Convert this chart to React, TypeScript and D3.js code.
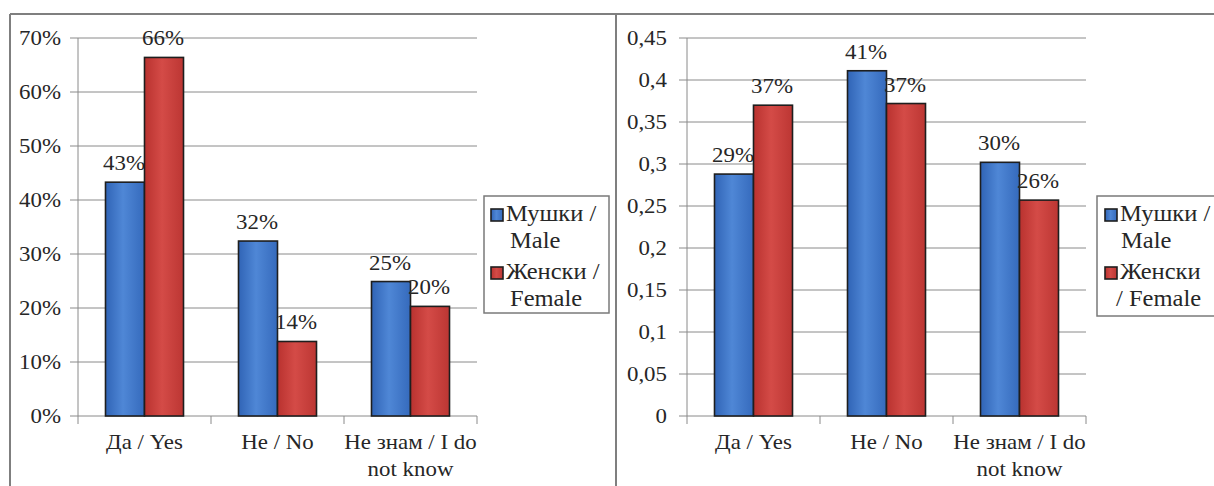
import React from "react";
import * as d3 from "d3";

const categories = ["Да / Yes", "Не / No", "Не знам / I do not know"];
const seriesNames = ["Мушки / Male", "Женски / Female"];
const maleLeft = [0.433, 0.324, 0.249];
const femaleLeft = [0.664, 0.138, 0.203];
const maleRight = [0.288, 0.411, 0.302];
const femaleRight = [0.37, 0.372, 0.257];
const leftTicks = [0, 0.1, 0.2, 0.3, 0.4, 0.5, 0.6, 0.7];
const rightTicks = [0, 0.05, 0.1, 0.15, 0.2, 0.25, 0.3, 0.35, 0.4, 0.45];
const legendLinesLeft = [["Мушки /", "Male"], ["Женски /", "Female"]];
const legendLinesRight = [["Мушки /", "Male"], ["Женски", "/ Female"]];

const FONT = '"Liberation Serif", Tinos, "DejaVu Serif", serif';
const TXT = "#262626";
const GRID = "#8a8a8a";
const SX = 1.09;

const commaLocale = d3.formatLocale({ decimal: ",", thousands: ".", grouping: [3], currency: ["", ""] });
const fmtComma = commaLocale.format("~g");
const fmtPct = d3.format(".0%");

let measureCtx: CanvasRenderingContext2D | null = null;
function measure(text: string, font: string) {
  if (!measureCtx) measureCtx = document.createElement("canvas").getContext("2d");
  if (!measureCtx) return text.length * 10;
  measureCtx.font = font;
  return measureCtx.measureText(text).width * SX;
}
function wrap(text: string, maxW: number, font: string) {
  const words = text.split(" ");
  const lines: string[] = [];
  let cur = "";
  for (const w of words) {
    const t = cur ? cur + " " + w : w;
    if (cur && measure(t, font) > maxW) {
      lines.push(cur);
      cur = w;
    } else cur = t;
  }
  if (cur) lines.push(cur);
  return lines;
}

function T(props: { x: number; y: number; size: number; anchor?: string; dy?: string; children: React.ReactNode }) {
  return (
    <text
      transform={`translate(${props.x},${props.y}) scale(${SX},1)`}
      dy={props.dy}
      textAnchor={props.anchor || "start"}
      style={{ fontFamily: FONT }}
      fontSize={props.size}
      fill={TXT}
    >
      {props.children}
    </text>
  );
}

type PanelProps = {
  id: string;
  x0: number;
  x1: number;
  yTop: number;
  y0: number;
  max: number;
  ticks: number[];
  tickFmt: (v: number) => string;
  tickGap: number;
  male: number[];
  female: number[];
  legend: { x: number; y: number; w: number; h: number; markerX: number; textX: number; line2X: number[]; lines: string[][] };
};

function Panel(p: PanelProps) {
  const x = d3.scaleBand<string>().domain(categories).range([p.x0, p.x1]).paddingInner(0.4135).paddingOuter(0.4135 / 2);
  const xs = d3.scaleBand<string>().domain(seriesNames).range([0, x.bandwidth()]);
  const y = d3.scaleLinear().domain([0, p.max]).range([p.y0, p.yTop]);
  const values = [p.male, p.female];
  const grads = [`${p.id}-blue`, `${p.id}-red`];
  const step = (p.x1 - p.x0) / categories.length;
  const catFont = `21px ${FONT}`;
  return (
    <g>
      <defs>
        <linearGradient id={grads[0]} x1="0" x2="1" y1="0" y2="0">
          <stop offset="0" stopColor="#3064b6" />
          <stop offset="0.45" stopColor="#4f87d6" />
          <stop offset="1" stopColor="#356abc" />
        </linearGradient>
        <linearGradient id={grads[1]} x1="0" x2="1" y1="0" y2="0">
          <stop offset="0" stopColor="#b9322f" />
          <stop offset="0.45" stopColor="#d44b47" />
          <stop offset="1" stopColor="#bc3633" />
        </linearGradient>
      </defs>
      {p.ticks.map((t) => (
        <g key={t}>
          <line x1={p.x0 - 8} x2={p.x1} y1={y(t)} y2={y(t)} stroke={GRID} strokeWidth={1} />
          <T x={p.x0 - p.tickGap} y={y(t)} dy="0.35em" anchor="end" size={21}>
            {p.tickFmt(t)}
          </T>
        </g>
      ))}
      <line x1={p.x0} x2={p.x0} y1={p.yTop} y2={p.y0} stroke={GRID} strokeWidth={1} />
      {d3.range(categories.length + 1).map((i) => (
        <line key={i} x1={p.x0 + i * step} x2={p.x0 + i * step} y1={p.y0} y2={p.y0 + 8} stroke={GRID} strokeWidth={1} />
      ))}
      {categories.map((c, ci) =>
        seriesNames.map((s, si) => {
          const v = values[si][ci];
          const bx = (x(c) as number) + (xs(s) as number);
          const bw = xs.bandwidth();
          return (
            <g key={c + s}>
              <rect x={bx} y={y(v)} width={bw} height={p.y0 - y(v)} fill={`url(#${grads[si]})`} stroke="#1e1e1e" strokeWidth={1.6} />
              <T x={bx + bw / 2 - 1} y={y(v) - 12} anchor="middle" size={21}>
                {fmtPct(v)}
              </T>
            </g>
          );
        })
      )}
      {categories.map((c) => {
        const lines = wrap(c, 145, catFont);
        const cx = (x(c) as number) + x.bandwidth() / 2;
        return lines.map((l, li) => (
          <T key={c + li} x={cx} y={449 + li * 27} anchor="middle" size={21}>
            {l}
          </T>
        ));
      })}
      <rect x={p.legend.x} y={p.legend.y} width={p.legend.w} height={p.legend.h} fill="white" stroke="#7a7a7a" strokeWidth={1.5} />
      {p.legend.lines.map((ls, si) => (
        <g key={si}>
          <rect x={p.legend.markerX} y={209 + si * 58} width={12} height={12} fill={`url(#${grads[si]})`} stroke="#1e1e1e" strokeWidth={1.6} />
          <T x={p.legend.textX} y={221 + si * 58} size={22.5}>
            {ls[0]}
          </T>
          <T x={p.legend.line2X[si]} y={248 + si * 58} size={22.5}>
            {ls[1]}
          </T>
        </g>
      ))}
    </g>
  );
}

export default function App() {
  return (
    <svg width={1214} height={486} style={{ position: "absolute", left: 0, top: 0, background: "white" }}>
      <rect x={0} y={0} width={1214} height={486} fill="white" />
      <line x1={10} x2={1214} y1={14} y2={14} stroke="#7f7f7f" strokeWidth={2} />
      <line x1={10} x2={10} y1={14} y2={486} stroke="#7f7f7f" strokeWidth={2} />
      <line x1={616} x2={616} y1={14} y2={486} stroke="#7f7f7f" strokeWidth={2} />
      <Panel
        id="l"
        x0={78}
        x1={477}
        yTop={38}
        y0={416}
        max={0.7}
        ticks={leftTicks}
        tickFmt={fmtPct}
        tickGap={17}
        male={maleLeft}
        female={femaleLeft}
        legend={{ x: 484, y: 196, w: 125, h: 117, markerX: 491, textX: 506, line2X: [510, 510], lines: legendLinesLeft }}
      />
      <Panel
        id="r"
        x0={687}
        x1={1086}
        yTop={38}
        y0={416}
        max={0.45}
        ticks={rightTicks}
        tickFmt={fmtComma}
        tickGap={20}
        male={maleRight}
        female={femaleRight}
        legend={{ x: 1097, y: 196, w: 130, h: 120, markerX: 1105, textX: 1120, line2X: [1121, 1116], lines: legendLinesRight }}
      />
    </svg>
  );
}
